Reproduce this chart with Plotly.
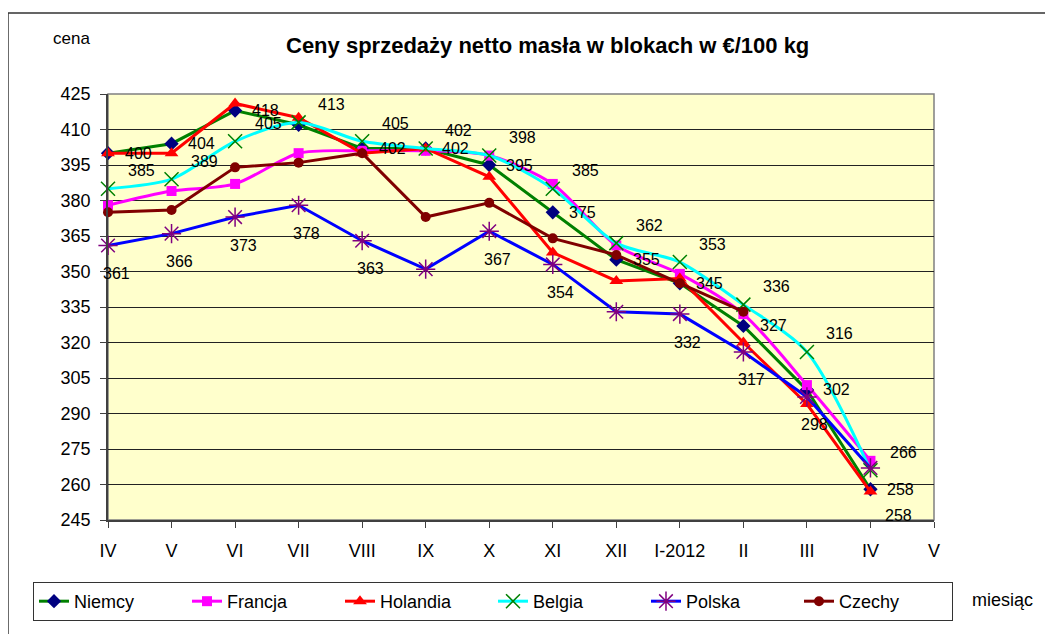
import plotly.graph_objects as go

# ---- data ----
months = ["IV", "V", "VI", "VII", "VIII", "IX", "X", "XI", "XII", "I-2012", "II", "III", "IV", "V"]
y_ticks = [245, 260, 275, 290, 305, 320, 335, 350, 365, 380, 395, 410, 425]

niemcy   = [400, 404, 418, 412, 402, 402, 395, 375, 355, 345, 327, 300, 258]
francja  = [378, 384, 387, 400, 401, 401, 399, 387, 361, 349, 332, 302, 270]
holandia = [400, 400, 421, 415, 400, 402, 390, 358, 346, 347, 320, 294, 257]
belgia   = [385, 389, 405, 413, 405, 402, 399, 385, 362, 354, 336, 316, 266]
polska   = [361, 366, 373, 378, 363, 351, 367, 353, 333, 332, 316, 297, 267]
czechy   = [375, 376, 394, 396, 400, 373, 379, 364, 357, 345, 333, None, None]

niemcy_labels   = ["400", "404", "418", None, "402", "402", "395", "375", "355", "345", "327", "302", "258"]
belgia_labels   = ["385", "389", "405", "413", "405", "402", "398", "385", "362", "353", "336", "316", "266"]
polska_labels   = ["361", "366", "373", "378", "363", None, "367", "354", None, "332", "317", "298", None]
holandia_labels = [None, None, None, None, None, None, None, None, None, None, None, None, "258"]

FONT = "Arial, 'Liberation Sans', sans-serif"

series = [
    ("Niemcy", niemcy, "#008000", "diamond", "#000080", 11, "linear", 0),
    ("Francja", francja, "#FF00FF", "square", "#FF00FF", 10, "spline", 0),
    ("Holandia", holandia, "#FF0000", "triangle-up", "#FF0000", 12, "linear", 0),
    ("Belgia", belgia, "#00FFFF", "x-thin", "#008000", 14, "spline", 1.5),
    ("Polska", polska, "#0000FF", "asterisk", "#800080", 16, "linear", 1.5),
    ("Czechy", czechy, "#800000", "circle", "#800000", 10, "linear", 0),
]

fig = go.Figure()
for name, vals, lc, sym, mc, ms, shape, mlw in series:
    xs = list(range(len(vals)))
    marker = dict(symbol=sym, size=ms, color=mc)
    if mlw:
        marker["line"] = dict(color=mc, width=mlw)
    fig.add_trace(go.Scatter(
        x=xs, y=vals, name=name, mode="lines+markers",
        line=dict(color=lc, width=3, shape=shape, smoothing=0.8),
        marker=marker, cliponaxis=False, connectgaps=False,
    ))

annotations = []
for vals, labels, dx, dy in [(niemcy, niemcy_labels, 30, 0),
                             (belgia, belgia_labels, 33, 18),
                             (polska, polska_labels, 8, -28),
                             (holandia, holandia_labels, 28, -24)]:
    for i, (v, t) in enumerate(zip(vals, labels)):
        if t is None:
            continue
        annotations.append(dict(x=i, y=v, xref="x", yref="y", text=t, showarrow=False,
                                xshift=dx, yshift=dy, font=dict(family=FONT, size=16, color="black")))

annotations += [
    dict(text="<b>Ceny sprzedaży netto masła w blokach w €/100 kg</b>", xref="paper", yref="paper",
         x=0.5315, y=1.1127, showarrow=False, xanchor="center", yanchor="middle",
         font=dict(family=FONT, size=22, color="black")),
    dict(text="cena", xref="paper", yref="paper", x=-0.0436, y=1.131, showarrow=False,
         xanchor="center", yanchor="middle", font=dict(family=FONT, size=17, color="black")),
    dict(text="miesiąc", xref="paper", yref="paper", x=1.0835, y=-0.1878, showarrow=False,
         xanchor="center", yanchor="middle", font=dict(family=FONT, size=18, color="black")),
]

shapes = [
    # outer chart border (cropped by the image edges)
    dict(type="rect", xref="paper", yref="paper", x0=-0.1211, y0=-0.5, x1=1.5, y1=1.190,
         line=dict(color="#333333", width=1.5), fillcolor="rgba(0,0,0,0)", layer="below"),
    # plot area frame
    dict(type="rect", xref="paper", yref="paper", x0=0, y0=0, x1=1, y1=1,
         line=dict(color="#808080", width=1.5), fillcolor="rgba(0,0,0,0)", layer="below"),
]

fig.update_layout(
    width=1045, height=626, autosize=False,
    margin=dict(l=100, r=119, t=86, b=114, autoexpand=False),
    paper_bgcolor="white", plot_bgcolor="#FFFFCC",
    font=dict(family=FONT, size=18, color="black"),
    showlegend=True,
    legend=dict(orientation="h", x=-0.0908, y=-0.1455, xanchor="left", yanchor="top",
                bordercolor="#333333", borderwidth=1, bgcolor="white",
                font=dict(family=FONT, size=18, color="black"),
                entrywidth=108, entrywidthmode="pixels", itemwidth=30, tracegroupgap=0),
    annotations=annotations,
    shapes=shapes,
)

fig.update_xaxes(
    range=[0, 13], tickmode="array", tickvals=list(range(len(months))), ticktext=months,
    showgrid=False, zeroline=False, showline=True, linecolor="#404040", linewidth=1.5,
    ticks="outside", ticklen=6, tickcolor="#404040", ticklabelstandoff=8,
    tickfont=dict(family=FONT, size=18, color="black"),
)
fig.update_yaxes(
    range=[245, 425], tickmode="array", tickvals=y_ticks,
    showgrid=True, gridcolor="#222222", gridwidth=1, zeroline=False,
    showline=True, linecolor="#404040", linewidth=1.5,
    ticks="outside", ticklen=6, tickcolor="#404040", ticklabelstandoff=6,
    tickfont=dict(family=FONT, size=18, color="black"),
)

fig.write_html("out.html")
